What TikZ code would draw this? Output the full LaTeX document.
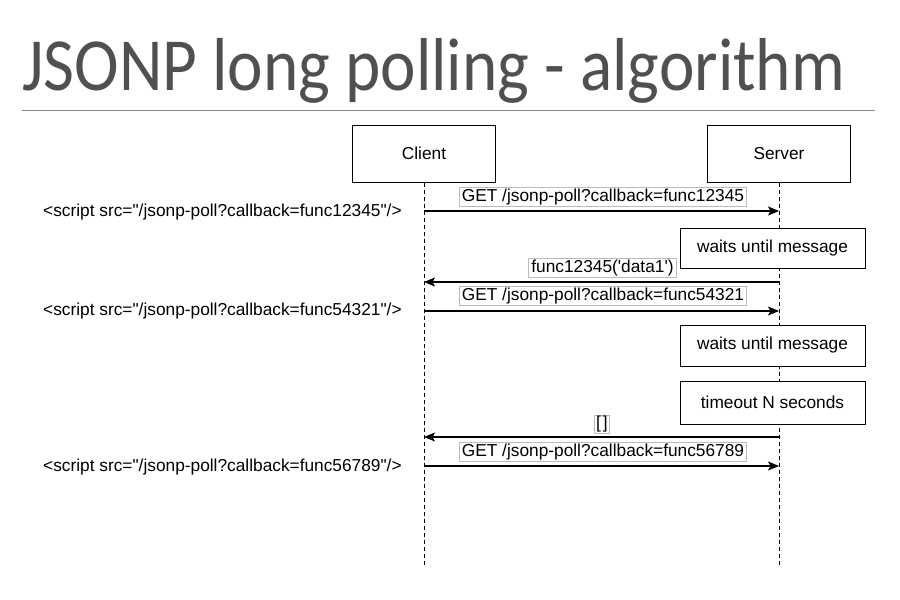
\documentclass[tikz,border=0pt]{standalone}
\usepackage{fontspec}
\setmainfont{Liberation Sans}[Ligatures=TeXOff]
\newfontfamily\titlefont{Carlito}
\usetikzlibrary{arrows.meta}
\definecolor{titlegray}{HTML}{505050}
\definecolor{rulegray}{HTML}{8A8A8A}
\definecolor{lblgray}{HTML}{BBBBBB}
\begin{document}
\begin{tikzpicture}[x=1pt,y=-1pt,
  txt/.style={font=\fontsize{17.3}{20}\selectfont},
  actor/.style={txt,draw,line width=1pt,fill=white,minimum width=143pt,minimum height=57pt,inner sep=0pt},
  note/.style={txt,draw,line width=1pt,fill=white,minimum width=185pt,inner sep=0pt},
  lifeline/.style={line width=0.9pt,dash pattern=on 4pt off 3pt},
  msg/.style={line width=1.1pt,-{Stealth[length=11pt,width=9pt,inset=2.5pt]}},
  lbl/.style={txt,draw=lblgray,line width=0.8pt,fill=white,inner xsep=2.5pt,inner ysep=1pt,text height=12.6pt,text depth=3.7pt},
  scripttxt/.style={txt,anchor=base west,inner sep=0pt}
]
\useasboundingbox (0,0) rectangle (900,600);

% title
\node[anchor=base west,inner sep=0pt,text=titlegray] (title) at (22,90)
  {\resizebox{823pt}{\height}{\titlefont\fontsize{75}{80}\selectfont JSONP long polling - algorithm}};
\coordinate (ruleL) at (22,110);
\coordinate (ruleR) at (875,110);
\draw[rulegray,line width=1pt] (ruleL) -- (ruleR);

% actors
\node[actor] (client) at (424,153.5) {Client};
\node[actor] (server) at (779,153.5) {Server};
\coordinate (clientEnd) at (424,565);
\coordinate (serverEnd) at (779,565);
\draw[lifeline] (client.south) -- (clientEnd);
\draw[lifeline] (server.south) -- (serverEnd);

% notes
\node[note,minimum height=40pt] (wait1) at (772.5,248) {waits until message};
\node[note,minimum height=41pt] (wait2) at (772.5,345.5) {waits until message};
\node[note,minimum height=43pt] (timeout) at (772.5,402.5) {timeout N seconds};

% message coordinates
\coordinate (c1) at (424,211); \coordinate (s1) at (779,211);
\coordinate (c2) at (424,282); \coordinate (s2) at (779,282);
\coordinate (c3) at (424,311); \coordinate (s3) at (779,311);
\coordinate (c4) at (424,437); \coordinate (s4) at (779,437);
\coordinate (c5) at (424,466); \coordinate (s5) at (779,466);

% messages
\draw[msg] (c1) -- (s1);
\node[lbl] (l1) at (603,197) {GET /jsonp-poll?callback=func12345};
\draw[msg] (s2) -- (c2);
\node[lbl] (l2) at (602.5,268) {func12345('data1')};
\draw[msg] (c3) -- (s3);
\node[lbl] (l3) at (603,296) {GET /jsonp-poll?callback=func54321};
\draw[msg] (s4) -- (c4);
\node[lbl,inner xsep=1.5pt] (l4) at (602,424.5) {[\kern2pt]};
\draw[msg] (c5) -- (s5);
\node[lbl] (l5) at (603,452) {GET /jsonp-poll?callback=func56789};

% client-side script tags
\node[scripttxt] (sc1) at (43,216) {<script src="/jsonp-poll?callback=func12345"/>};
\node[scripttxt] (sc2) at (43,315) {<script src="/jsonp-poll?callback=func54321"/>};
\node[scripttxt] (sc3) at (43,471) {<script src="/jsonp-poll?callback=func56789"/>};
\end{tikzpicture}
\end{document}
